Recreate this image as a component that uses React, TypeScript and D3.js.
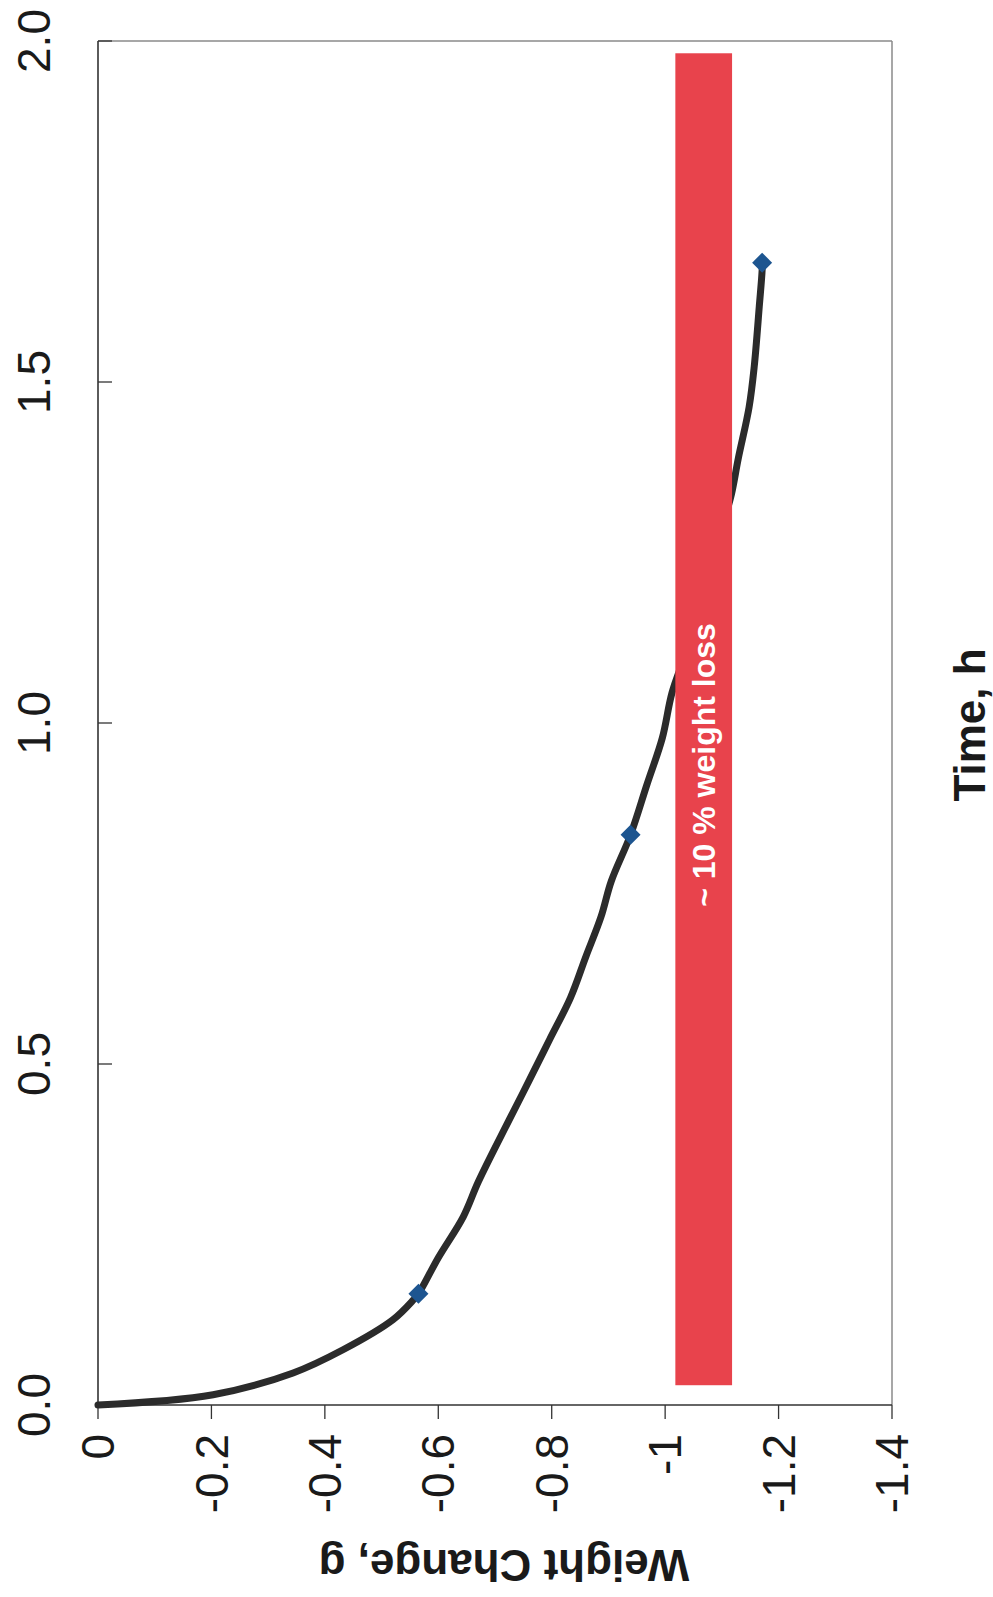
import React from "react";
import * as d3 from "d3";

const weightTicks = [0, -0.2, -0.4, -0.6, -0.8, -1, -1.2, -1.4];
const weightTickLabels = ["0", "-0.2", "-0.4", "-0.6", "-0.8", "-1", "-1.2", "-1.4"];
const timeTicks = [0, 0.5, 1.0, 1.5, 2.0];
const timeTickLabels = ["0.0", "0.5", "1.0", "1.5", "2.0"];

const curveTime = [0, 0.015, 0.047, 0.081, 0.125, 0.154, 0.163, 0.216, 0.276, 0.328, 0.418, 0.477, 0.537, 0.597, 0.657, 0.716, 0.768, 0.836, 0.91, 0.978, 1.044, 1.1, 1.2, 1.3, 1.336, 1.388, 1.463, 1.522, 1.611, 1.664, 1.675];
const curveWeight = [0, -0.203, -0.344, -0.432, -0.52, -0.556, -0.565, -0.6, -0.644, -0.671, -0.725, -0.761, -0.797, -0.833, -0.86, -0.887, -0.905, -0.939, -0.968, -0.995, -1.012, -1.035, -1.07, -1.105, -1.117, -1.129, -1.148, -1.157, -1.166, -1.171, -1.171];

const markerTime = [0.163, 0.836, 1.675];
const markerWeight = [-0.565, -0.939, -1.171];

const bandWeight = [-1.018, -1.118];
const bandTime = [0.029, 1.982];
const bandLabel = "~ 10 % weight loss";

export default function App() {
  const W = 993, H = 1597;
  const x = d3.scaleLinear().domain([0, -1.4]).range([98, 892]);
  const y = d3.scaleLinear().domain([0, 2]).range([1405, 41]);

  const pts: [number, number][] = curveTime.map((t, i) => [x(curveWeight[i]), y(t)]);
  const line = d3.line().curve(d3.curveCatmullRom)(pts) || "";

  const font = "Arial, 'Liberation Sans', Helvetica, sans-serif";
  const bx0 = x(bandWeight[0]), bx1 = x(bandWeight[1]);
  const by0 = y(bandTime[1]), by1 = y(bandTime[0]);
  const marker = d3.symbol().type(d3.symbolSquare).size(200)() || "";

  return (
    <svg width={W} height={H} style={{ position: "absolute", left: 0, top: 0, display: "block", background: "#fff" }} fontFamily={font}>
      {/* frame */}
      <line x1={x(0)} x2={x(-1.4)} y1={y(2)} y2={y(2)} stroke="#8a8a8a" strokeWidth={1.5} />
      <line x1={x(-1.4)} x2={x(-1.4)} y1={y(2)} y2={y(0)} stroke="#8a8a8a" strokeWidth={1.5} />
      <line x1={x(0)} x2={x(0)} y1={y(2)} y2={y(0)} stroke="#333" strokeWidth={1.6} />
      <line x1={x(0)} x2={x(-1.4)} y1={y(0)} y2={y(0)} stroke="#333" strokeWidth={1.6} />

      {/* weight ticks */}
      {weightTicks.map((v, i) => (
        <g key={"w" + i}>
          <line x1={x(v)} x2={x(v)} y1={y(0)} y2={y(0) + 14} stroke="#333" strokeWidth={1.3} />
          <text transform={`translate(${x(v)},1434) rotate(-90)`} textAnchor="end" dy="0.35em" fontSize={46} fill="#1a1a1a">
            {weightTickLabels[i]}
          </text>
        </g>
      ))}

      {/* time ticks */}
      {timeTicks.map((v, i) => (
        <g key={"t" + i}>
          <line x1={x(0)} x2={x(0) + 14} y1={y(v)} y2={y(v)} stroke="#333" strokeWidth={1.3} />
          <text transform={`translate(34,${y(v)}) rotate(-90)`} textAnchor="middle" dy="0.35em" fontSize={46} fill="#1a1a1a">
            {timeTickLabels[i]}
          </text>
        </g>
      ))}

      {/* curve */}
      <path d={line} fill="none" stroke="#2b2b2b" strokeWidth={7} strokeLinecap="round" strokeLinejoin="round" />

      {/* red band drawn over the curve */}
      <rect x={bx0} y={by0} width={bx1 - bx0} height={by1 - by0} fill="#E8434C" />
      <text transform={`translate(${(bx0 + bx1) / 2},765) rotate(-90)`} textAnchor="middle" dy="0.35em" fontSize={32} fontWeight="bold" fill="#ffffff">
        {bandLabel}
      </text>

      {/* markers */}
      {markerTime.map((t, i) => (
        <path key={"m" + i} d={marker} transform={`translate(${x(markerWeight[i])},${y(t)}) rotate(45)`} fill="#1d5590" />
      ))}

      {/* axis titles */}
      <text transform="translate(970,725) rotate(-90)" textAnchor="middle" dy="0.35em" fontSize={44} fontWeight="bold" fill="#1a1a1a">
        Time, h
      </text>
      <text transform="translate(504,1550) rotate(180)" textAnchor="middle" fontSize={44} fontWeight="bold" fill="#1a1a1a">
        Weight Change, g
      </text>
    </svg>
  );
}
